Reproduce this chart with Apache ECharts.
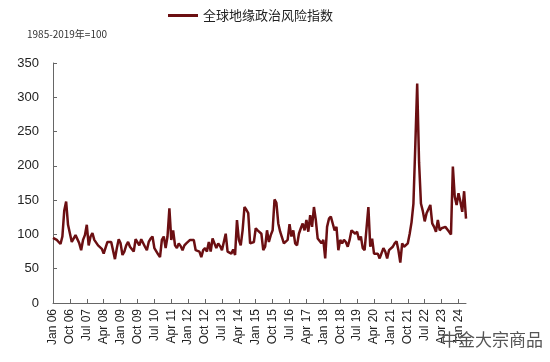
<!DOCTYPE html>
<html>
<head>
<meta charset="utf-8">
<script src="https://cdn.jsdelivr.net/npm/echarts@6/dist/echarts.min.js"></script>
<style>
html,body{margin:0;padding:0;background:#fff;}
#chart{width:550px;height:362px;}
</style>
</head>
<body>
<div id="chart"></div>
<script>
// Monthly categories Jan 2006 - May 2024
var monthNames = ['Jan','Feb','Mar','Apr','May','Jun','Jul','Aug','Sep','Oct','Nov','Dec'];
var startYear = 2006;
var monthCount = 221;
var categories = [];
for (var i = 0; i < monthCount; i++) {
  var y = startYear + Math.floor(i / 12);
  categories.push(monthNames[i % 12] + ' ' + String(y).slice(2));
}

var seriesName = '全球地缘政治风险指数';
var gprValues = [
  95,95,92,89,86,97,135,148,114,114,
  89,91,99,97,87,77,92,99,114,84,
  97,102,92,94,84,82,79,72,73,89,
  90,89,89,64,80,93,87,70,75,84,
  89,82,84,75,93,91,84,93,91,82,
  77,89,94,97,80,80,71,67,92,97,
  80,97,138,92,106,84,80,87,83,77,
  84,87,86,92,94,92,77,78,75,67,
  77,80,75,89,75,94,87,80,87,83,
  77,75,101,75,77,72,78,70,121,92,
  84,106,140,136,131,87,86,89,109,106,
  104,101,77,82,106,89,99,106,151,146,
  116,104,106,87,88,92,115,97,106,87,
  84,101,109,116,106,121,104,128,111,140,
  121,94,92,87,92,65,111,123,126,116,
  106,111,77,92,87,92,89,82,92,106,
  106,101,104,92,97,80,77,75,140,82,
  94,72,70,72,65,65,80,75,65,77,
  75,82,87,90,77,59,87,82,80,87,
  101,118,145,230,320,205,145,134,119,131,
  133,143,116,111,104,121,106,109,109,111,
  109,104,100,199,155,143,160,148,133,163,123
];

var yTicks = {min: 0, max: 350, interval: 50};
var unitNote = '1985-2019年=100';
var watermark = '中金大宗商品';

var chart = echarts.init(document.getElementById('chart'), null, {renderer: 'canvas'});
var lineColor = '#6b0f12';
chart.setOption({
  animation: false,
  backgroundColor: '#fff',
  textStyle: {fontFamily: '"Liberation Sans", Arial, "Noto Sans CJK SC", sans-serif'},
  legend: {
    data: [seriesName],
    left: 163,
    top: 4,
    icon: 'rect',
    itemWidth: 30,
    itemHeight: 3,
    itemGap: 10,
    textStyle: {fontSize: 13, color: '#222', fontFamily: '"Noto Sans CJK SC", sans-serif'}
  },
  graphic: [
    {type: 'text', left: 27, top: 29, style: {text: unitNote, fontSize: 10, fill: '#333', fontFamily: '"Noto Sans CJK SC", "Liberation Sans", sans-serif'}},
    {type: 'text', left: 441, top: 331, z: 100, style: {text: watermark, fontSize: 17, fill: '#555', fontFamily: '"Noto Sans CJK SC", sans-serif'}}
  ],
  grid: {left: 53, right: 84, top: 63, bottom: 59, containLabel: false},
  xAxis: {
    type: 'category',
    data: categories,
    boundaryGap: false,
    axisLine: {lineStyle: {color: '#666', width: 1}},
    axisTick: {show: true, inside: true, interval: 8, length: 4, lineStyle: {color: '#666'}},
    axisLabel: {interval: 8, rotate: 90, fontSize: 12, color: '#222', margin: 6}
  },
  yAxis: {
    type: 'value',
    min: yTicks.min,
    max: yTicks.max,
    interval: yTicks.interval,
    splitLine: {show: false},
    axisLine: {show: true, lineStyle: {color: '#666', width: 1}},
    axisTick: {show: true, inside: true, length: 4, lineStyle: {color: '#666'}},
    axisLabel: {fontSize: 13, color: '#222', margin: 14}
  },
  series: [{
    name: seriesName,
    type: 'line',
    data: gprValues,
    symbol: 'none',
    lineStyle: {color: lineColor, width: 2.5},
    itemStyle: {color: lineColor}
  }]
});
</script>
</body>
</html>
